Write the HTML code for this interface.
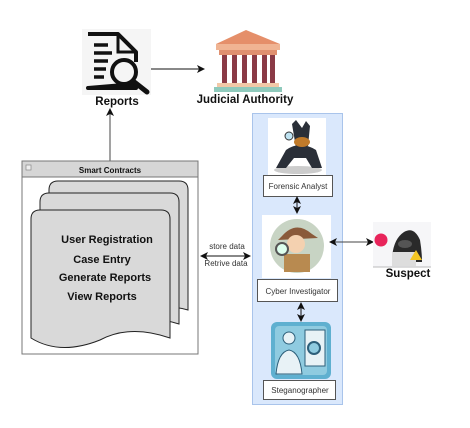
<!DOCTYPE html>
<html><head><style>
body{margin:0;background:#fff;}
svg{display:block;font-family:"Liberation Sans",Arial,sans-serif;}
</style></head><body>
<svg width="470" height="428" viewBox="0 0 470 428" xmlns="http://www.w3.org/2000/svg">
<defs>
<marker id="a" markerWidth="8" markerHeight="8" refX="7" refY="4" orient="auto-start-reverse" markerUnits="userSpaceOnUse"><path d="M0,0 L8,4 L0,8 L2,4 z" fill="#111"/></marker>
</defs>
<!-- Reports icon -->
<rect x="82" y="29" width="69" height="66" fill="#f5f5f5"/>
<path d="M88,34 H118 L136,52 V62 M136,84 V88 H88 Z" fill="none" stroke="#111" stroke-width="4" stroke-linejoin="round"/>
<path d="M118,34 V52 H136" fill="none" stroke="#111" stroke-width="3"/>
<g stroke="#111" stroke-width="3.5"><line x1="94" y1="45" x2="108" y2="45"/><line x1="94" y1="53" x2="112" y2="53"/><line x1="94" y1="61" x2="108" y2="61"/><line x1="94" y1="69" x2="106" y2="69"/><line x1="94" y1="77" x2="104" y2="77"/></g>
<circle cx="124" cy="72" r="12" fill="#f5f5f5" stroke="#111" stroke-width="4"/>
<line x1="133" y1="81" x2="147" y2="92" stroke="#111" stroke-width="5" stroke-linecap="round"/>
<text x="117" y="105" font-size="11.5" font-weight="bold" text-anchor="middle" fill="#111">Reports</text>
<line x1="151" y1="69" x2="204" y2="69" stroke="#111" stroke-width="1" marker-end="url(#a)"/>
<!-- Judicial -->
<polygon points="246,30 216,44 280,44" fill="#e58f6a"/>
<rect x="216" y="44" width="64" height="6" fill="#f0b493"/>
<rect x="219" y="50" width="58" height="5" fill="#e09070"/>
<g fill="#8a3a46"><rect x="222" y="55" width="5" height="28"/><rect x="232" y="55" width="5" height="28"/><rect x="242" y="55" width="5" height="28"/><rect x="252" y="55" width="5" height="28"/><rect x="262" y="55" width="5" height="28"/><rect x="270" y="55" width="5" height="28"/></g>
<rect x="217" y="83" width="62" height="4" fill="#f2c9a8"/>
<rect x="214" y="87" width="68" height="5" fill="#8fcabc"/>
<text x="245" y="103" font-size="11.5" font-weight="bold" text-anchor="middle" fill="#111">Judicial Authority</text>
<!-- vertical arrow to reports -->
<line x1="110" y1="161" x2="110" y2="109" stroke="#444" stroke-width="1" marker-end="url(#a)"/>
<!-- Smart contracts -->
<rect x="22" y="161" width="176" height="193" fill="#fff" stroke="#777" stroke-width="1"/>
<rect x="22" y="161" width="176" height="16" fill="#d6d6d6" stroke="#777" stroke-width="1"/>
<rect x="26" y="165" width="5" height="5" fill="#eee" stroke="#888" stroke-width="0.7"/>
<text x="110" y="173" font-size="8" font-weight="bold" text-anchor="middle" fill="#111">Smart Contracts</text>
<g fill="#d9d9d9" stroke="#222" stroke-width="1">
<path d="M49,190 Q49,181 58,181 H179 Q188,181 188,190 V310 Q150,300 120,316 Q80,330 49,310 Z"/>
<path d="M40,202 Q40,193 49,193 H170 Q179,193 179,202 V324 Q140,312 110,328 Q70,342 40,324 Z"/>
<path d="M31,219 Q31,210 40,210 H161 Q170,210 170,219 V338 Q130,324 100,340 Q60,356 31,338 Z"/>
</g>
<g font-size="11" font-weight="bold" text-anchor="middle" fill="#111">
<text x="107" y="243">User Registration</text>
<text x="102" y="263">Case Entry</text>
<text x="105" y="281">Generate Reports</text>
<text x="102" y="300">View Reports</text>
</g>
<!-- data arrow -->
<line x1="201" y1="256" x2="250" y2="256" stroke="#111" stroke-width="1" marker-start="url(#a)" marker-end="url(#a)"/>
<text x="227" y="249" font-size="8" text-anchor="middle" fill="#333">store data</text>
<text x="226" y="266" font-size="8" text-anchor="middle" fill="#333">Retrive data</text>
<!-- blue panel -->
<rect x="252.5" y="113.5" width="90" height="291" fill="#dae8fc" stroke="#a9c4eb" stroke-width="1"/>
<!-- dog -->
<rect x="268" y="118" width="58" height="57" fill="#fff"/>
<ellipse cx="298" cy="170" rx="24" ry="4" fill="#ccc"/>
<path d="M286,150 Q300,140 316,150 L322,168 L312,168 L306,158 L294,158 L286,168 L276,168 Z" fill="#2a2f38"/>
<path d="M292,124 L296,120 L302,128 L306,121 L310,126 L308,146 L296,148 Z" fill="#2a2f38"/>
<ellipse cx="302" cy="142" rx="8" ry="5" fill="#c07a2a"/>
<circle cx="289" cy="136" r="4" fill="#bfe3f2" stroke="#333"/>
<rect x="263.5" y="175.5" width="69" height="21" fill="#fff" stroke="#555"/>
<text x="298" y="189" font-size="8" text-anchor="middle" fill="#333">Forensic Analyst</text>
<line x1="297" y1="197" x2="297" y2="213" stroke="#111" stroke-width="1" marker-start="url(#a)" marker-end="url(#a)"/>
<!-- cyber investigator -->
<rect x="262" y="215" width="69" height="63" fill="#fff"/>
<circle cx="297" cy="246" r="27" fill="#c8d4c4"/>
<path d="M282,236 Q296,220 312,234 L318,238 L278,240 Z" fill="#8a5a3a"/>
<circle cx="296" cy="244" r="9" fill="#f4d1b0"/>
<path d="M284,254 H310 V272 H284 Z" fill="#b88a50"/>
<circle cx="282" cy="249" r="6" fill="#dfe" stroke="#555" stroke-width="2"/>
<rect x="257.5" y="279.5" width="80" height="22" fill="#fff" stroke="#555"/>
<text x="298" y="294" font-size="8" text-anchor="middle" fill="#333">Cyber Investigator</text>
<line x1="301" y1="303" x2="301" y2="321" stroke="#111" stroke-width="1" marker-start="url(#a)" marker-end="url(#a)"/>
<!-- steganographer -->
<rect x="271" y="322" width="60" height="57" rx="6" fill="#5fb0d0"/>
<rect x="275" y="326" width="52" height="49" rx="4" fill="#8fcbe0"/>
<circle cx="289" cy="338" r="6" fill="#e8f2f6" stroke="#2d5f7a"/>
<path d="M276,374 Q278,352 289,350 Q300,352 302,374 Z" fill="#e8f2f6" stroke="#2d5f7a"/>
<rect x="305" y="330" width="20" height="36" fill="#e8f2f6" stroke="#2d5f7a"/>
<circle cx="314" cy="348" r="6" fill="#8fcbe0" stroke="#2d5f7a" stroke-width="2"/>
<rect x="263.5" y="380.5" width="72" height="19" fill="#fff" stroke="#555"/>
<text x="300" y="393" font-size="8" text-anchor="middle" fill="#333">Steganographer</text>
<!-- suspect -->
<line x1="330" y1="242" x2="373" y2="242" stroke="#444" stroke-width="1" marker-start="url(#a)" marker-end="url(#a)"/>
<rect x="373" y="222" width="58" height="45" fill="#f6f6f8"/>
<path d="M392,262 Q392,240 404,232 Q414,226 420,240 Q422,252 422,262 Z" fill="#2a2a2a"/>
<ellipse cx="405" cy="244" rx="7" ry="4" fill="#555"/>
<rect x="392" y="252" width="24" height="14" fill="#ddd"/>
<circle cx="381" cy="240" r="6.5" fill="#e8245a"/>
<polygon points="416,250 422,260 410,260" fill="#f3c623"/>
<line x1="373" y1="267" x2="431" y2="267" stroke="#bbb"/>
<text x="408" y="277" font-size="11.5" font-weight="bold" text-anchor="middle" fill="#111">Suspect</text>
</svg>
</body></html>
